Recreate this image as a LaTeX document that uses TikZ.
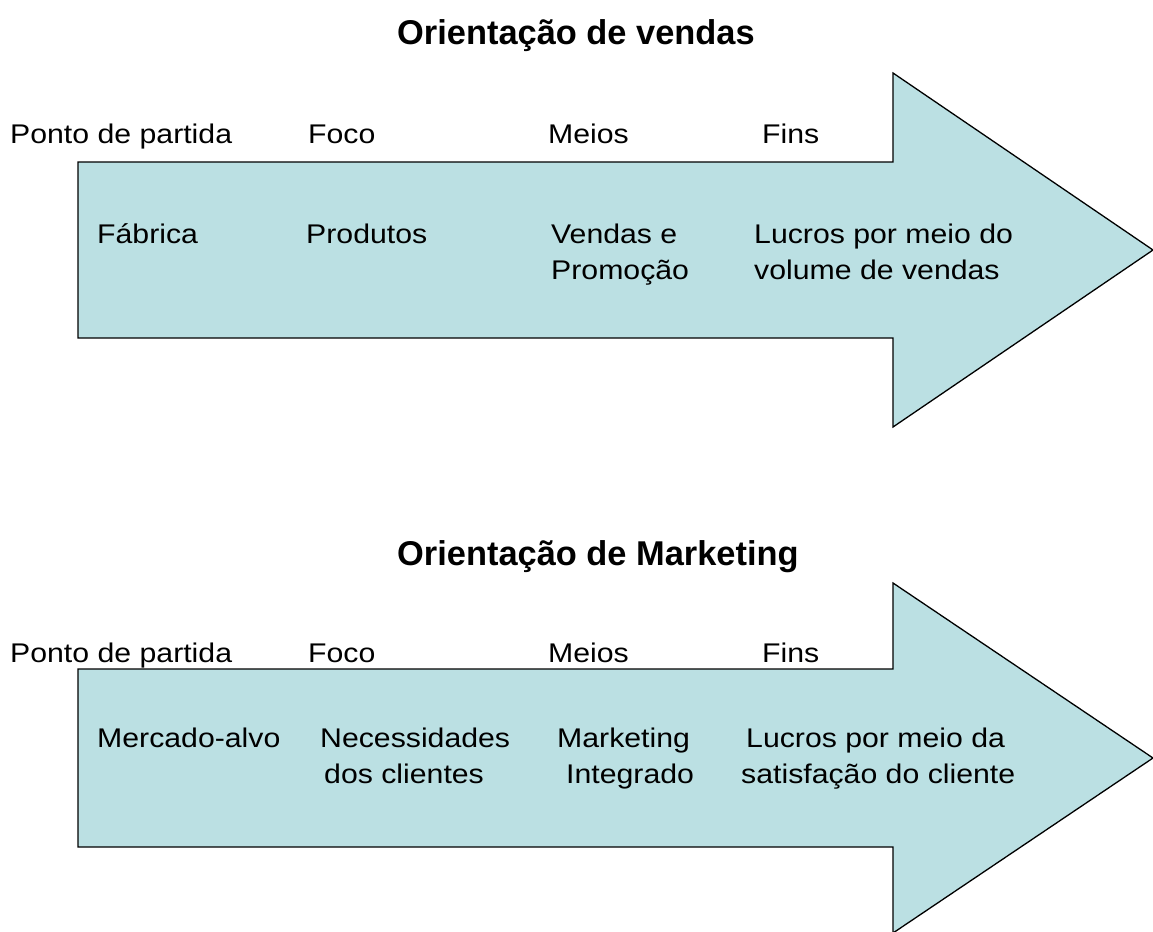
\documentclass[tikz,border=0pt]{standalone}
\usepackage{fontspec}
\setmainfont[FakeStretch=1.12]{Liberation Sans}
\newfontfamily\titlefont{Liberation Sans}
\definecolor{arrowfill}{RGB}{187,224,227}
\begin{document}
\begin{tikzpicture}[x=1pt,y=-1pt,
  bigarrow/.style={draw=black,fill=arrowfill,line width=1.3pt,line join=miter},
  lbl/.style={anchor=base west,inner sep=0pt,font=\fontsize{27}{31}\selectfont},
  ttl/.style={anchor=base west,inner sep=0pt,font=\titlefont\bfseries\fontsize{34.4}{38}\selectfont}]
\useasboundingbox (0,0) rectangle (1153,931);
\begin{scope}
\clip (0,0) rectangle (1153,931);
% arrow 1
\draw[bigarrow] (78,162) -- (893,162) -- (893,73) -- (1153,250) -- (893,427) -- (893,338) -- (78,338) -- cycle;
% arrow 2
\draw[bigarrow] (78,669) -- (893,669) -- (893,583) -- (1153,758) -- (893,933) -- (893,847) -- (78,847) -- cycle;
\end{scope}
% titles
\node[ttl] (t1) at (397,45) {Orientação de vendas};
\node[ttl] (t2) at (397,565) {Orientação de Marketing};
% row 1 labels
\node[lbl] (a1) at (10,143) {Ponto de partida};
\node[lbl] (a2) at (308,143) {Foco};
\node[lbl] (a3) at (548,143) {Meios};
\node[lbl] (a4) at (762,143) {Fins};
% row 1 inside
\node[lbl] (b1) at (97,243) {Fábrica};
\node[lbl] (b2) at (306,243) {Produtos};
\node[lbl] (b3) at (551,243) {Vendas e};
\node[lbl] (b3b) at (551,279) {Promoção};
\node[lbl] (b4) at (754,243) {Lucros por meio do};
\node[lbl] (b4b) at (754,279) {volume de vendas};
% row 2 labels
\node[lbl] (c1) at (10,662) {Ponto de partida};
\node[lbl] (c2) at (308,662) {Foco};
\node[lbl] (c3) at (548,662) {Meios};
\node[lbl] (c4) at (762,662) {Fins};
% row 2 inside
\node[lbl] (d1) at (97,747) {Mercado-alvo};
\node[lbl] (d2) at (320,747) {Necessidades};
\node[lbl] (d2b) at (324,783) {dos clientes};
\node[lbl] (d3) at (557,747) {Marketing};
\node[lbl] (d3b) at (566,783) {Integrado};
\node[lbl] (d4) at (746,747) {Lucros por meio da};
\node[lbl] (d4b) at (741,783) {satisfação do cliente};
\end{tikzpicture}
\end{document}
